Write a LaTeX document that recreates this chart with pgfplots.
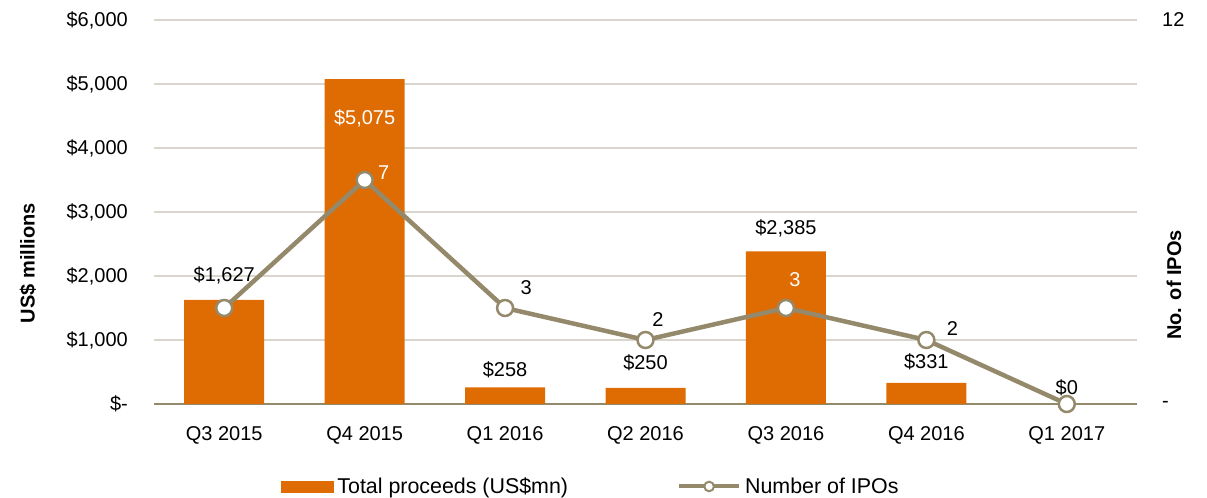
\documentclass[border=0pt]{standalone}
\usepackage{pgfplots}
\pgfplotsset{compat=1.18}
\usepackage{pgfplotstable}
\usepackage{fontspec}
\setmainfont{Liberation Sans}
\definecolor{barc}{HTML}{DF6B03}
\definecolor{linec}{HTML}{948A6B}
\definecolor{gridc}{HTML}{D9D6CE}

\pgfplotstableread{
x y dy w
0 1627 18 0
1 5075 -45 100
2 258 10.5 0
3 250 19 0
4 2385 17 0
5 331 14 0
6 0 9.5 0
}\bars

\pgfplotstableread{
x y
0 3
1 7
2 3
3 2
4 3
5 2
6 0
}\ipos

\pgfplotstableread{
x y dx dy w
1 7 19 7.5 100
2 3 21 20.5 0
3 2 12.5 20 0
4 3 9 28 100
5 2 26 11 0
}\ipolabels

\begin{document}
\begin{tikzpicture}[font=\fontsize{20bp}{24bp}\selectfont]
\useasboundingbox (0,0) rectangle (1207bp,498bp);
\pgfplotsset{common/.style={scale only axis, width=983bp, height=384bp,
  at={(154bp,94bp)}, anchor=south west, xmin=-0.5, xmax=6.5,
  /pgf/number format/assume math mode=true, /pgf/number format/1000 sep={,},
  tick label style={font=\fontsize{20bp}{24bp}\selectfont, inner sep=0pt}}}
\begin{axis}[common, ybar, bar width=80bp, ymin=0, ymax=6000,
  ytick={0,1000,...,6000},
  yticklabels={{\$-},{\$1,000},{\$2,000},{\$3,000},{\$4,000},{\$5,000},{\$6,000}},
  ymajorgrids, grid style={gridc, line width=1.5bp},
  axis x line*=bottom, axis y line*=left, y axis line style={draw=none}, ytick style={draw=none},
  x axis line style={linec, line width=1.5bp},
  xtick={0,...,6}, xticklabels={Q3 2015,Q4 2015,Q1 2016,Q2 2016,Q3 2016,Q4 2016,Q1 2017},
  xtick style={draw=none},
  extra x ticks={-0.5,0.5,...,6.5}, extra x tick labels={},
  extra x tick style={major tick length=6bp, tick align=outside, tick style={draw=linec, line width=1.5bp}},
  yticklabel shift=26bp, xticklabel shift=18bp]
\addplot[fill=barc, draw=none, nodes near coords={\$\pgfmathprintnumber{\pgfplotspointmeta}},
  point meta=y,
  visualization depends on={\thisrow{dy} \as \dy},
  visualization depends on={\thisrow{w} \as \wv},
  nodes near coords style={anchor=base, inner sep=0pt, yshift=\dy bp, text=white!\wv!black,
    font=\fontsize{20bp}{24bp}\selectfont}]
  table[x=x, y=y] {\bars};
\end{axis}
\begin{axis}[common, ymin=0, ymax=12, axis y line*=right, axis x line=none,
  ytick={0,12}, yticklabels={-,12}, y axis line style={draw=none}, ytick style={draw=none},
  yticklabel shift=25bp,
  legend style={draw=none, fill=none, inner sep=0pt, outer sep=0pt,
    at={(0.1292,-0.2148)}, anchor=west, legend columns=2,
    nodes={inner sep=0pt, anchor=west}, font=\fontsize{21.4bp}{25bp}\selectfont,
    /tikz/every odd column/.append style={column sep=4bp},
    /tikz/every even column/.append style={column sep=109bp}}]
\addlegendimage{legend image code/.code={\fill[barc] (0bp,-5.5bp) rectangle (52bp,5.5bp);}}
\addlegendentry{Total proceeds (US\$mn)}
\addplot[linec, line width=4.5bp, mark=*, mark size=8bp,
  mark options={fill=white, draw=linec, line width=2.5bp},
  legend image code/.code={\draw[linec, line width=4bp, mark=*, mark size=4.8bp,
    mark options={fill=white, draw=linec, line width=2bp},
    mark repeat=2, mark phase=2] plot coordinates {(0bp,0bp) (30bp,0bp) (60bp,0bp)};}]
  table[x=x, y=y] {\ipos};
\addlegendentry{Number of IPOs}
\addplot[draw=none, mark=none, forget plot, nodes near coords, point meta=y,
  visualization depends on={\thisrow{dx} \as \dx},
  visualization depends on={\thisrow{dy} \as \dy},
  visualization depends on={\thisrow{w} \as \wv},
  nodes near coords style={anchor=center, inner sep=0pt, xshift=\dx bp, yshift=\dy bp, text=white!\wv!black,
    font=\fontsize{20bp}{24bp}\selectfont}]
  table[x=x, y=y] {\ipolabels};
\end{axis}
\node[rotate=90, font=\bfseries\fontsize{20bp}{24bp}\selectfont] at (28bp,235bp) {US\$ millions};
\node[rotate=90, font=\bfseries\fontsize{20bp}{24bp}\selectfont] at (1174bp,213bp) {No. of IPOs};
\end{tikzpicture}
\end{document}
